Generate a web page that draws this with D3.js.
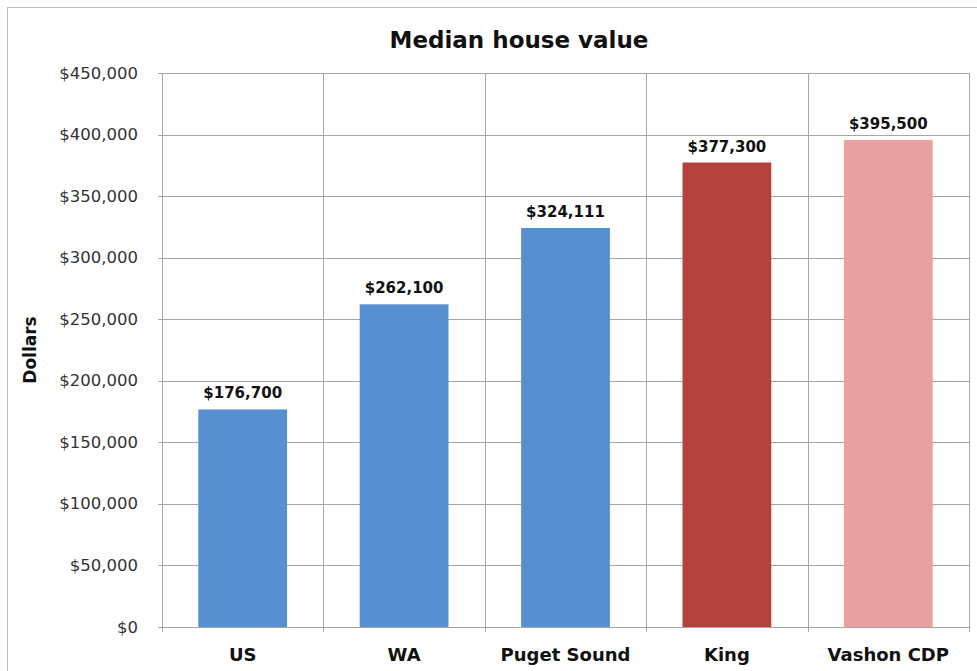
<!DOCTYPE html>
<html>
<head>
<meta charset="utf-8">
<script src="https://cdn.jsdelivr.net/npm/d3@7"></script>
<style>
  body { margin: 0; background: #fff; }
  svg { display: block; font-family: "DejaVu Sans", sans-serif; }
</style>
</head>
<body>
<svg id="chart" width="977" height="671"></svg>
<script>
// Daten
const categories = ['US', 'WA', 'Puget Sound', 'King', 'Vashon CDP'];
const values = [176700, 262100, 324111, 377300, 395500];
const valueLabels = ['$176,700', '$262,100', '$324,111', '$377,300', '$395,500'];
const barColors = ['#5790d1', '#5790d1', '#5790d1', '#b3423f', '#e9a0a0'];
const yTicks = [0, 50000, 100000, 150000, 200000, 250000, 300000, 350000, 400000, 450000];

const svg = d3.select('#chart');
const margin = { left: 162, right: 8, top: 73, bottom: 44 };
const W = 977, H = 671;

// Rahmen
svg.append('rect')
  .attr('x', 7.5).attr('y', 7.5)
  .attr('width', W).attr('height', H)
  .attr('fill', 'none').attr('stroke', '#bdbdbd');

const x = d3.scaleBand()
  .domain(categories)
  .range([margin.left, W - margin.right])
  .paddingInner(0.45).paddingOuter(0.225);

const y = d3.scaleLinear()
  .domain([0, 450000])
  .range([H - margin.bottom, margin.top]);

const fmt = d3.format('$,');
const x0 = margin.left, x1 = W - margin.right;

// horizontale Gitterlinien
svg.append('g')
  .selectAll('line')
  .data(yTicks)
  .join('line')
  .attr('x1', x0 - 4).attr('x2', x1)
  .attr('y1', d => Math.round(y(d)) + 0.5).attr('y2', d => Math.round(y(d)) + 0.5)
  .attr('stroke', '#a6a6a6');

// vertikale Gitterlinien (Kategoriegrenzen)
const bounds = d3.range(categories.length + 1).map(i => x0 + i * (x1 - x0) / categories.length);
svg.append('g')
  .selectAll('line')
  .data(bounds)
  .join('line')
  .attr('x1', d => Math.round(d) + 0.5).attr('x2', d => Math.round(d) + 0.5)
  .attr('y1', y(450000)).attr('y2', y(0) + 5)
  .attr('stroke', '#a6a6a6');

// Y-Achsen-Beschriftung
svg.append('g')
  .selectAll('text')
  .data(yTicks)
  .join('text')
  .attr('x', x0 - 24)
  .attr('y', d => y(d) + 5.5)
  .attr('text-anchor', 'end')
  .attr('font-size', 16.5)
  .attr('fill', '#333')
  .text(d => fmt(d));

// Balken
svg.append('g')
  .selectAll('rect')
  .data(values)
  .join('rect')
  .attr('x', (d, i) => x(categories[i]))
  .attr('y', d => y(d))
  .attr('width', x.bandwidth())
  .attr('height', d => y(0) - y(d))
  .attr('fill', (d, i) => barColors[i]);

// Werte über den Balken
svg.append('g')
  .selectAll('text')
  .data(values)
  .join('text')
  .attr('x', (d, i) => x(categories[i]) + x.bandwidth() / 2)
  .attr('y', d => y(d) - 11)
  .attr('text-anchor', 'middle')
  .attr('font-size', 15)
  .attr('font-weight', 'bold')
  .attr('fill', '#111')
  .text((d, i) => valueLabels[i]);

// Kategorien
svg.append('g')
  .selectAll('text')
  .data(categories)
  .join('text')
  .attr('x', d => x(d) + x.bandwidth() / 2)
  .attr('y', H - margin.bottom + 34)
  .attr('text-anchor', 'middle')
  .attr('font-size', 18)
  .attr('font-weight', 'bold')
  .attr('fill', '#111')
  .text(d => d);

// Titel
svg.append('text')
  .attr('x', 519).attr('y', 48)
  .attr('text-anchor', 'middle')
  .attr('font-size', 23)
  .attr('font-weight', 'bold')
  .attr('fill', '#111')
  .text('Median house value');

// Achsentitel
svg.append('text')
  .attr('transform', `translate(36, ${(y(0) + y(450000)) / 2}) rotate(-90)`)
  .attr('text-anchor', 'middle')
  .attr('font-size', 17)
  .attr('font-weight', 'bold')
  .attr('fill', '#111')
  .text('Dollars');
</script>
</body>
</html>
